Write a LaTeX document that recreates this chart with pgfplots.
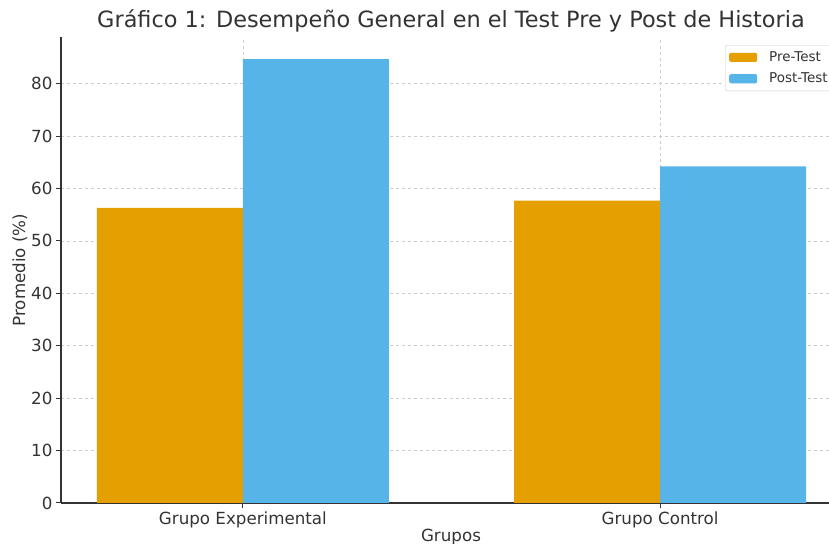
\documentclass[border=0pt]{standalone}
\usepackage{pgfplots}
\pgfplotsset{compat=1.18}
\usepackage{fontspec}
\setmainfont{DejaVu Sans}
\definecolor{preC}{HTML}{E69F00}
\definecolor{postC}{HTML}{56B4E9}
\definecolor{txt}{HTML}{333333}
\begin{document}
\begin{tikzpicture}
\begin{axis}[
  at={(61bp,41bp)}, anchor=south west,
  scale only axis, width=768bp, height=466bp,
  xmin=-0.436, xmax=1.405, ymin=0, ymax=88.9,
  axis x line*=bottom, axis y line*=left,
  xtick={0,1}, xticklabels={Grupo Experimental, Grupo Control},
  ytick={0,10,...,80},
  tick align=outside, major tick length=5bp,
  tick style={color=txt, line width=1bp},
  grid=major, grid style={dashed, color=black!20, line width=0.6bp},
  axis line style={color=txt, line width=1.2bp},
  ticklabel style={font=\fontsize{16.7bp}{19bp}\selectfont, color=txt},
  /pgf/number format/assume math mode=true,
  legend style={at={(0.8646,0.9828)}, anchor=north west,
    font=\fontsize{13.5bp}{16bp}\selectfont, text=txt,
    draw=black!20, rounded corners=2bp, fill=white,
    inner xsep=4bp, inner ysep=4.5bp, row sep=6bp,
    /tikz/every odd column/.append style={column sep=10bp}},
  legend cell align=left,
  legend image code/.code={\fill[#1] (0bp,-4.6bp) rectangle (28bp,4.6bp);},
]
\addplot[ybar, bar width=0.35, bar shift=-0.175, fill=preC, draw=none]
  coordinates {(0,56.3) (1,57.7)};
\addlegendentry{Pre-Test}
\addplot[ybar, bar width=0.35, bar shift=0.175, fill=postC, draw=none]
  coordinates {(0,84.7) (1,64.2)};
\addlegendentry{Post-Test}
\end{axis}
\node[text=txt, font=\fontsize{22.4bp}{26bp}\selectfont] at (451bp,523bp) {Gráfico 1: Desempeño General en el Test Pre y Post de Historia};
\node[text=txt, font=\fontsize{16.7bp}{19bp}\selectfont] at (451bp,7bp) {Grupos};
\node[text=txt, font=\fontsize{16.7bp}{19bp}\selectfont, rotate=90] at (20bp,274bp) {Promedio (\%)};
\pgfresetboundingbox
\useasboundingbox (0,0) rectangle (829bp,544bp);
\end{tikzpicture}
\end{document}
